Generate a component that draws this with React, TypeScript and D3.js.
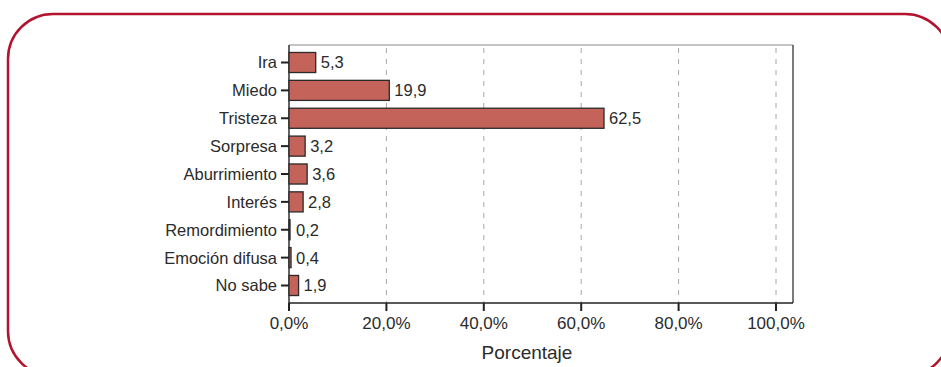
import React, { useRef, useEffect } from 'react'
import * as d3 from 'd3'

const categories = ['Ira', 'Miedo', 'Tristeza', 'Sorpresa', 'Aburrimiento', 'Interés', 'Remordimiento', 'Emoción difusa', 'No sabe']
const values = [5.3, 19.9, 62.5, 3.2, 3.6, 2.8, 0.2, 0.4, 1.9]
const xTicks = [0, 20, 40, 60, 80, 100]

const fmt = (v: number) => v.toFixed(1).replace('.', ',')

function App() {
  const svgRef = useRef(null)

  useEffect(() => {
    const svg = d3.select(svgRef.current)
    svg.selectAll('*').remove()

    const width = 941
    const height = 367
    const plot = { left: 289, right: 793, top: 45, bottom: 303 }
    const font = '"Liberation Sans", Arial, Helvetica, sans-serif'
    const textColor = '#2b2b2b'

    //rounded red frame
    svg
      .append('rect')
      .attr('x', 8)
      .attr('y', 14)
      .attr('width', 942)
      .attr('height', 362)
      .attr('rx', 45)
      .attr('fill', 'none')
      .attr('stroke', '#b3132e')
      .attr('stroke-width', 2.5)

    //scales: axis ticks stop short of the frame, bars span the full width
    const x = d3.scaleLinear().domain([0, 100]).range([plot.left, 776])
    const xBar = d3.scaleLinear().domain([0, 100]).range([plot.left, plot.right])
    const y = d3
      .scaleBand()
      .domain(categories)
      .range([plot.top, plot.bottom])
      .paddingInner(0.28)
      .paddingOuter(0.268)

    //grid
    svg
      .append('g')
      .selectAll('line')
      .data(xTicks.slice(1))
      .join('line')
      .attr('x1', (d) => x(d))
      .attr('x2', (d) => x(d))
      .attr('y1', plot.top + 3)
      .attr('y2', plot.bottom)
      .attr('stroke', '#a8a8a8')
      .attr('stroke-width', 1)
      .attr('stroke-dasharray', '5,6')

    //plot frame
    svg
      .append('line')
      .attr('x1', plot.left)
      .attr('x2', plot.right)
      .attr('y1', plot.top)
      .attr('y2', plot.top)
      .attr('stroke', '#8a8a8a')
      .attr('stroke-width', 1)
    svg
      .append('line')
      .attr('x1', plot.right)
      .attr('x2', plot.right)
      .attr('y1', plot.top)
      .attr('y2', plot.bottom)
      .attr('stroke', '#222')
      .attr('stroke-width', 1.2)
    svg
      .append('line')
      .attr('x1', plot.left)
      .attr('x2', plot.right)
      .attr('y1', plot.bottom)
      .attr('y2', plot.bottom)
      .attr('stroke', '#222')
      .attr('stroke-width', 1.4)
    svg
      .append('line')
      .attr('x1', plot.left)
      .attr('x2', plot.left)
      .attr('y1', plot.top)
      .attr('y2', plot.bottom)
      .attr('stroke', '#222')
      .attr('stroke-width', 1.4)

    //bars
    svg
      .append('g')
      .selectAll('rect')
      .data(values)
      .join('rect')
      .attr('x', plot.left)
      .attr('y', (d, i) => y(categories[i]) as number)
      .attr('width', (d) => Math.max(0.8, xBar(d) - plot.left))
      .attr('height', y.bandwidth())
      .attr('fill', '#c4635a')
      .attr('stroke', '#2a2a2a')
      .attr('stroke-width', 1.3)

    //value labels
    svg
      .append('g')
      .selectAll('text')
      .data(values)
      .join('text')
      .attr('x', (d) => Math.max(xBar(d), plot.left + 2) + 5)
      .attr('y', (d, i) => (y(categories[i]) as number) + y.bandwidth() / 2)
      .attr('dy', '0.36em')
      .attr('font-family', font)
      .attr('font-size', 16.5)
      .attr('fill', textColor)
      .text((d) => fmt(d))

    //y axis ticks + labels
    const yAxis = svg.append('g')
    yAxis
      .selectAll('line')
      .data(categories)
      .join('line')
      .attr('x1', plot.left - 8)
      .attr('x2', plot.left)
      .attr('y1', (d) => (y(d) as number) + y.bandwidth() / 2)
      .attr('y2', (d) => (y(d) as number) + y.bandwidth() / 2)
      .attr('stroke', '#222')
      .attr('stroke-width', 2)
    yAxis
      .selectAll('text')
      .data(categories)
      .join('text')
      .attr('x', plot.left - 12)
      .attr('y', (d) => (y(d) as number) + y.bandwidth() / 2)
      .attr('dy', '0.36em')
      .attr('text-anchor', 'end')
      .attr('font-family', font)
      .attr('font-size', 16.5)
      .attr('fill', textColor)
      .text((d) => d)

    //x axis ticks + labels
    const xAxis = svg.append('g')
    xAxis
      .selectAll('line')
      .data(xTicks)
      .join('line')
      .attr('x1', (d) => x(d))
      .attr('x2', (d) => x(d))
      .attr('y1', plot.bottom)
      .attr('y2', plot.bottom + 8)
      .attr('stroke', '#222')
      .attr('stroke-width', 2)
    xAxis
      .selectAll('text')
      .data(xTicks)
      .join('text')
      .attr('x', (d) => x(d))
      .attr('y', 329)
      .attr('text-anchor', 'middle')
      .attr('font-family', font)
      .attr('font-size', 17)
      .attr('fill', textColor)
      .text((d) => fmt(d) + '%')

    svg
      .append('text')
      .attr('x', 527)
      .attr('y', 359)
      .attr('text-anchor', 'middle')
      .attr('font-family', font)
      .attr('font-size', 19)
      .attr('fill', textColor)
      .text('Porcentaje')

    svg.attr('width', width).attr('height', height)
  }, [])

  return (
    <div style={{ position: 'absolute', left: 0, top: 0, width: 941, height: 367, overflow: 'hidden', background: '#fff' }}>
      <svg ref={svgRef} style={{ display: 'block' }} />
    </div>
  )
}

export default App
